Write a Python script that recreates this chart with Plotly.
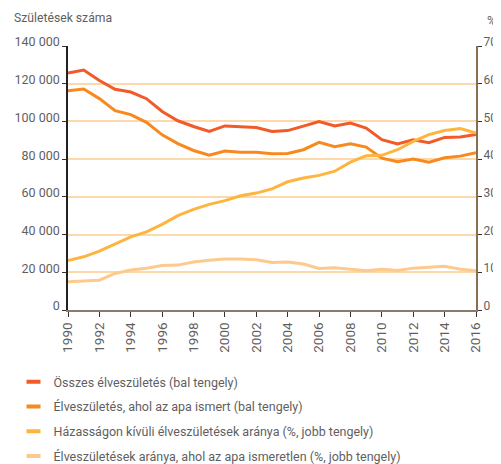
import plotly.graph_objects as go

years = list(range(1990, 2017))
total_births = [125679, 127207, 121724, 117033, 115598, 112054, 105272, 100350, 97301, 94645,
                97597, 97047, 96804, 94647, 95137, 97496, 99871, 97613, 99149, 96442,
                90335, 88049, 90269, 88689, 91510, 91690, 93063]
father_known = [116300, 117200, 112100, 105700, 103600, 99500, 92900, 88200, 84600, 82100,
                84300, 83700, 83700, 82800, 83000, 85000, 88900, 86600, 88200, 86400,
                80500, 78600, 80000, 78400, 80700, 81600, 83400]
extramarital_pct = [13.1, 14.1, 15.6, 17.6, 19.4, 20.7, 22.7, 25.0, 26.7, 28.0,
                    29.0, 30.3, 31.0, 32.1, 34.0, 35.0, 35.7, 36.8, 39.2, 40.9,
                    41.0, 42.5, 44.7, 46.5, 47.6, 48.1, 46.9]
father_unknown_pct = [7.5, 7.7, 7.9, 9.7, 10.6, 11.1, 11.8, 11.9, 12.7, 13.2,
                      13.5, 13.5, 13.3, 12.6, 12.7, 12.2, 11.0, 11.2, 10.8, 10.4,
                      10.8, 10.5, 11.1, 11.3, 11.6, 10.8, 10.4]

names = ["Összes élveszületés (bal tengely)",
         "Élveszületés, ahol az apa ismert (bal tengely)",
         "Házasságon kívüli élveszületések aránya (%, jobb tengely)",
         "Élveszületések aránya, ahol az apa ismeretlen (%, jobb tengely)"]
colors = ["#F15A29", "#F7891F", "#FDB53F", "#FDC98D"]

FONT = "Roboto"
GRAY = "#5f5f5f"

# the page body has an 8px margin, so the figure is 8px smaller than the window
W, H = 493, 456
OFF = 8
L, R, T, B = 68 - OFF, 501 - 476, 46 - OFF, 464 - 310
PW, PH = W - L - R, H - T - B

fig = go.Figure()
series = [(total_births, "y"), (father_known, "y"),
          (extramarital_pct, "y2"), (father_unknown_pct, "y2")]
# draw in reverse so the red line is on top
for i in [3, 2, 1, 0]:
    vals, ax = series[i]
    fig.add_trace(go.Scatter(x=years, y=vals, yaxis=ax, mode="lines",
                             line=dict(color=colors[i], width=3),
                             showlegend=False, hoverinfo="skip"))
# legend-only entries (no data points), short thick swatches like the reference
for i in range(4):
    vals, ax = series[i]
    fig.add_trace(go.Scatter(x=[None], y=[None], yaxis=ax, mode="markers",
                             name=names[i], legendgroup=f"g{i}",
                             marker=dict(symbol="line-ew", size=10,
                                         line=dict(width=4, color=colors[i]))))

fig.update_layout(
    width=W, height=H,
    margin=dict(l=L, r=R, t=T, b=B, autoexpand=False),
    paper_bgcolor="white", plot_bgcolor="white",
    separators=", ",
    font=dict(family=FONT, size=13, color=GRAY),
    showlegend=True,
    legend=dict(xref="container", yref="container", x=5.5 / W, y=1 - (367 - OFF) / H,
                xanchor="left", yanchor="top", orientation="v",
                font=dict(size=12.5, color=GRAY), tracegroupgap=5.5,
                bgcolor="rgba(0,0,0,0)", itemwidth=30, itemclick=False,
                itemdoubleclick=False),
    xaxis=dict(range=[1990, 2016], tickvals=list(range(1990, 2017, 2)),
               tickangle=-90, ticks="outside", ticklen=5, tickcolor="#333",
               showgrid=False, showline=True, linecolor="#8B7B6B", linewidth=2,
               zeroline=False, tickfont=dict(size=13.5, color=GRAY)),
    yaxis=dict(range=[0, 140000], dtick=20000, tickformat=",d",
               ticks="outside", ticklen=4, tickcolor="#333",
               showline=True, linecolor="#222", linewidth=1.5,
               gridcolor="#FDD8AA", gridwidth=1.5, zeroline=False,
               ticklabelshift=-4,
               tickfont=dict(size=12.5, color=GRAY)),
    yaxis2=dict(range=[0, 70], dtick=10, overlaying="y", side="right",
                ticks="outside", ticklen=4, tickcolor="#333",
                showline=True, linecolor="#8B6E4E", linewidth=2,
                showgrid=False, zeroline=False, ticklabelstandoff=-1,
                ticklabelshift=-4,
                tickfont=dict(size=12, color=GRAY)),
    annotations=[
        dict(text="Születések száma", xref="paper", yref="paper",
             x=(12 - OFF - L) / PW, y=(310 - 18) / PH, xanchor="left", yanchor="middle",
             showarrow=False, font=dict(size=12.2, color=GRAY)),
        dict(text="%", xref="paper", yref="paper",
             x=(498 - OFF - L) / PW, y=(310 - 20) / PH, xanchor="right", yanchor="middle",
             showarrow=False, font=dict(size=12.5, color=GRAY)),
    ],
)

fig.write_html("out.html")
